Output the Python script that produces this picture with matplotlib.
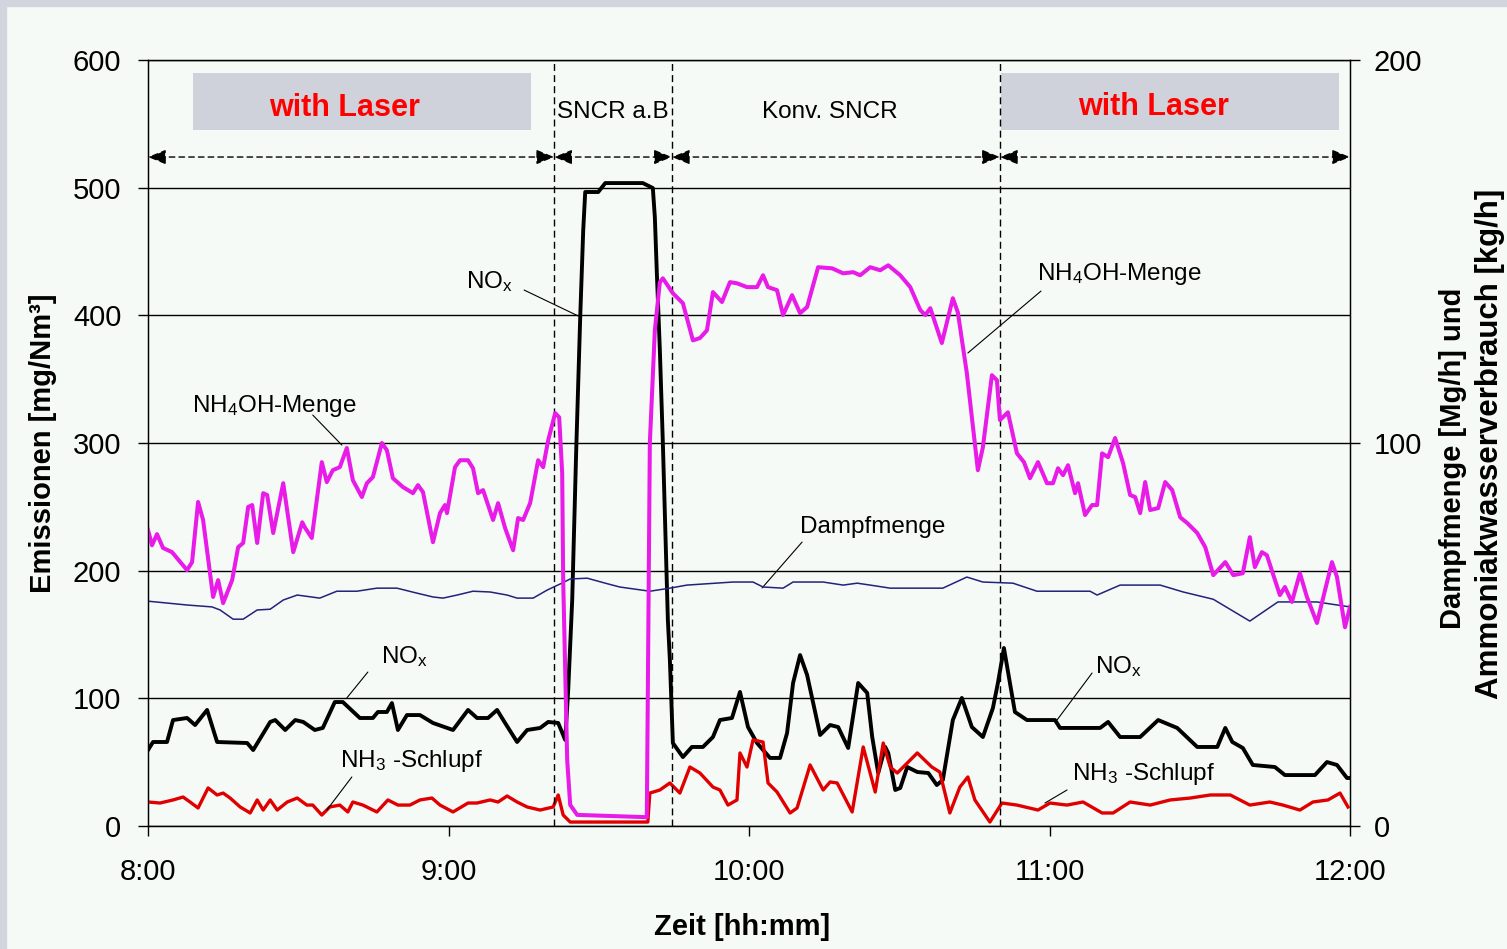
import matplotlib.pyplot as plt
from matplotlib.patches import Rectangle

plt.rcParams['font.family'] = ['Liberation Sans', 'DejaVu Sans']
plt.rcParams['mathtext.fontset'] = 'custom'
plt.rcParams['mathtext.rm'] = 'Liberation Sans'
plt.rcParams['mathtext.it'] = 'Liberation Sans:italic'
plt.rcParams['mathtext.bf'] = 'Liberation Sans:bold'

# time in minutes after 8:00
# NOx [mg/Nm3], left axis
nox_t = [0, 1.0, 3.8, 5.0, 7.8, 9.4, 11.8, 13.8, 19.8, 21.0, 24.4, 25.4, 27.4, 29.4, 31.0,
         33.3, 34.9, 37.3, 38.9, 42.3, 44.9, 45.9, 47.7, 48.7, 49.9, 51.7, 54.3, 56.9, 60.9,
         63.9, 65.7, 67.9, 69.7, 71.3, 73.7, 75.7, 78.3, 79.9, 81.9, 83.3, 83.9, 84.7, 85.5,
         86.3, 86.9, 87.3, 89.9, 91.3, 98.8, 100.8, 101.2, 101.6, 102.2, 102.8, 103.8, 104.2,
         104.8, 106.8, 108.6, 110.8, 112.8, 114.2, 116.6, 118.2, 119.8, 121.6, 124.2, 126.2,
         127.6, 128.8, 130.2, 131.6, 134.2, 136.2, 137.8, 139.8, 141.8, 143.6, 144.6, 145.8,
         147.2, 147.8, 149.2, 150.2, 151.6, 153.6, 155.8, 157.5, 158.7, 160.7, 162.5, 164.5,
         166.7, 168.7, 169.7, 170.9, 172.1, 173.1, 175.5, 181.1, 182.1, 190.1, 191.7, 194.1,
         198.1, 201.7, 205.5, 209.5, 213.5, 215.1, 216.5, 218.6, 220.6, 225.0, 227.0, 233.0,
         235.4, 237.4, 239.4, 240.0]
nox_v = [59.5, 65.8, 65.8, 83.0, 84.6, 79.1, 90.9, 65.8, 65.0, 59.5, 81.5, 83.0, 75.2, 83.0, 81.5,
         75.2, 76.8, 97.1, 97.1, 84.6, 84.6, 89.3, 89.3, 96.3, 75.2, 86.9, 86.9, 80.7, 75.2,
         90.9, 84.6, 84.6, 90.9, 80.7, 65.8, 75.2, 76.8, 81.5, 80.7, 67.4, 106.5, 177.0, 294.5,
         398.7, 466.8, 496.6, 496.6, 503.6, 503.6, 499.7, 476.9, 433.1, 372.8, 300.0, 161.4, 130.1,
         65.0, 54.0, 61.9, 61.9, 69.7, 83.0, 84.6, 105.0, 77.5, 65.0, 53.3, 53.3,
         72.8, 112.0, 133.9, 118.3, 71.3, 79.1, 77.5, 61.1, 112.0, 104.2, 69.7, 41.5,
         61.9, 57.2, 28.2, 29.8, 46.2, 42.3, 41.5, 32.1, 36.0, 83.0, 100.3, 77.5,
         69.7, 92.4, 112.0, 139.4, 112.0, 89.3, 83.0, 83.0, 76.8, 76.8, 81.5, 69.7,
         69.7, 83.0, 76.8, 61.9, 61.9, 76.8, 65.8, 61.1, 47.8, 46.2, 39.9, 39.9,
         50.1, 47.8, 37.6, 37.6]

# NH3-Schlupf [mg/Nm3], left axis
nh3_t = [0, 2.4, 5.0, 7.0, 8.4, 10.0, 12.0, 13.8, 15.0, 16.4, 18.4, 20.4, 21.8, 23.0, 24.4,
         25.8, 27.8, 29.8, 31.7, 32.9, 34.7, 36.3, 38.3, 39.9, 40.9, 42.9, 45.7, 47.9, 49.9,
         52.3, 54.3, 56.7, 58.3, 60.9, 63.9, 65.7, 68.3, 69.9, 71.7, 73.7, 75.7, 78.3, 80.9,
         81.9, 82.9, 84.3, 99.8, 100.2, 102.2, 104.2, 106.2, 108.2, 110.2, 112.8, 114.2, 115.8,
         117.6, 118.2, 119.6, 120.8, 122.8, 123.8, 125.6, 128.2, 129.6, 132.2, 134.8, 136.2,
         137.6, 140.6, 142.8, 145.2, 146.8, 148.2, 149.6, 150.8, 153.6, 156.5, 158.1, 160.1,
         162.1, 163.7, 165.1, 168.1, 170.5, 173.5, 177.7, 180.1, 183.5, 186.7, 190.5, 192.7,
         196.1, 200.1, 204.1, 208.1, 212.1, 216.1, 220.0, 224.0, 226.6, 230.0, 232.6, 235.6,
         238.0, 239.6]
nh3_v = [18.8, 18.0, 20.4, 22.7, 18.8, 14.1, 29.8, 24.3, 25.8, 21.9, 14.9, 10.2, 20.4, 12.5, 20.4,
         12.5, 18.8, 21.9, 16.4, 16.4, 8.6, 14.9, 16.4, 11.0, 18.8, 16.4, 11.0, 20.4, 16.4,
         16.4, 20.4, 21.9, 16.4, 11.0, 18.0, 18.0, 20.4, 18.8, 23.5, 18.8, 14.9, 12.5, 14.9,
         24.3, 8.6, 3.1, 3.1, 25.8, 28.2, 33.7, 25.8, 46.2, 41.5, 30.5, 28.2, 16.4,
         20.4, 57.2, 46.2, 67.4, 65.8, 33.7, 26.6, 10.2, 14.1, 47.8, 28.2, 34.5,
         33.7, 11.0, 61.9, 26.6, 65.0, 46.2, 41.5, 46.2, 57.2, 46.2, 42.3, 10.2,
         30.5, 38.4, 20.4, 3.1, 18.0, 16.4, 12.5, 18.0, 16.4, 18.8, 10.2, 10.2,
         18.8, 16.4, 20.4, 21.9, 24.3, 24.3, 16.4, 18.8, 16.4, 12.5, 18.8, 20.4,
         25.8, 14.9]

# NH4OH-Menge [kg/h], right axis
nh4_t = [0, 0.8, 1.8, 3.0, 4.8, 7.8, 8.8, 10.0, 11.0, 13.0, 14.0, 15.0, 16.8, 18.0, 19.0,
         20.0, 20.8, 21.8, 23.0, 23.8, 25.0, 27.0, 29.0, 30.8, 31.3, 32.7, 34.7, 35.7, 36.9,
         38.3, 39.7, 40.9, 42.7, 43.7, 44.9, 46.7, 47.7, 48.9, 50.9, 52.9, 53.9, 54.9, 56.9,
         58.3, 59.3, 59.7, 61.3, 62.3, 63.9, 64.9, 65.9, 66.9, 68.9, 69.9, 71.3, 72.9, 73.9,
         74.9, 76.3, 77.9, 78.9, 79.9, 81.3, 82.1, 82.7, 82.9, 83.7, 84.3, 85.7, 99.2, 99.6,
         100.2, 101.2, 102.2, 102.8, 104.8, 106.8, 108.8, 110.2, 111.6, 112.8, 114.6, 116.2,
         117.6, 119.6, 121.6, 122.8, 123.8, 125.6, 126.8, 128.6, 130.2, 131.6, 133.8, 136.6,
         138.8, 140.8, 142.2, 144.2, 146.2, 147.8, 150.2, 152.2, 154.2, 155.2, 156.2, 158.5,
         160.7, 161.7, 163.5, 165.7, 166.7, 168.5, 169.5, 170.1, 171.7, 173.5, 174.9, 176.1,
         177.7, 179.5, 180.7, 181.7, 182.7, 183.7, 185.1, 185.7, 187.1, 188.5, 189.5, 190.5,
         191.7, 193.1, 194.7, 196.1, 197.1, 198.1, 199.1, 200.1, 201.7, 203.1, 204.5, 206.1,
         207.5, 209.5, 211.1, 212.7, 215.1, 216.7, 218.6, 220.0, 221.0, 222.4, 223.4, 226.0,
         227.0, 228.4, 230.0, 231.4, 233.4, 236.4, 237.4, 239.0, 240.0]
nh4_v = [77.3, 73.3, 76.2, 72.6, 71.5, 66.8, 68.9, 84.6, 79.9, 59.8, 64.2, 58.2, 64.2, 72.8, 73.9,
         83.3, 83.8, 73.9, 86.9, 86.4, 76.5, 89.5, 71.5, 79.3, 78.0, 75.2, 95.0, 89.8, 92.9,
         93.7, 98.7, 90.3, 85.9, 89.5, 91.1, 100.0, 98.1, 90.8, 88.5, 86.9, 89.0, 87.2, 74.1,
         81.7, 83.8, 81.7, 93.7, 95.5, 95.5, 93.4, 86.9, 87.7, 79.9, 84.3, 77.8, 72.0, 80.4,
         79.9, 84.3, 95.5, 93.7, 100.7, 107.8, 106.7, 92.1, 64.2, 17.2, 5.5, 2.9, 2.3, 2.3,
         100.0, 129.4, 142.0, 143.0, 139.1, 136.5, 126.8, 127.4, 129.4, 139.4, 136.8, 142.0,
         141.7, 140.7, 140.7, 143.8, 140.7, 139.9, 133.4, 138.6, 133.9, 135.5, 145.9, 145.6,
         144.3, 144.6, 143.8, 145.9, 145.1, 146.4, 143.8, 140.7, 134.7, 133.4, 135.2, 126.1,
         137.8, 134.1, 118.2, 92.9, 98.9, 117.7, 116.4, 106.0, 108.0, 97.3, 95.0, 90.8,
         95.0, 89.5, 89.5, 93.4, 91.6, 94.2, 86.9, 89.5, 81.2, 83.8, 83.8, 97.3,
         96.3, 101.3, 94.7, 86.4, 85.9, 81.7, 89.8, 82.5, 83.0, 89.8, 87.7, 80.6,
         79.1, 76.5, 72.8, 65.5, 68.9, 65.5, 66.0, 75.4, 67.6, 71.5, 70.7, 60.3,
         62.4, 58.5, 66.0, 59.8, 53.0, 68.9, 65.0, 51.9, 57.2]

# Dampfmenge [Mg/h], right axis
dampf_t = [0, 7.8, 12.8, 14.4, 17.0, 19.0, 21.8, 24.4, 27.0, 29.8, 34.3, 37.7, 41.7, 45.7, 49.7,
           53.7, 56.9, 58.9, 61.7, 64.9, 68.3, 71.7, 73.7, 76.9, 79.7, 82.3, 84.3, 87.7, 91.3,
           94.2, 100.2, 104.2, 107.6, 116.8, 120.8, 122.8, 126.8, 128.8, 134.8, 138.8, 141.6,
           144.2, 148.2, 158.7, 163.5, 166.7, 172.7, 177.5, 188.1, 189.5, 194.1, 202.1, 206.7,
           212.7, 220.0, 225.6, 233.4, 240.0]
dampf_v = [58.7, 57.7, 57.2, 56.4, 54.0, 54.0, 56.4, 56.6, 59.0, 60.3, 59.5, 61.3, 61.3, 62.1, 62.1,
           60.8, 59.8, 59.5, 60.3, 61.3, 61.1, 60.3, 59.5, 59.5, 61.6, 63.2, 64.5, 64.7, 63.4,
           62.4, 61.3, 62.1, 62.9, 63.7, 63.7, 62.4, 62.1, 63.7, 63.7, 62.9, 63.4,
           62.9, 62.1, 62.1, 65.0, 63.7, 63.4, 61.3, 61.3, 60.3, 62.9, 62.9, 61.1,
           59.2, 53.5, 58.5, 58.5, 57.2]

phase_bounds = [0, 81.1, 104.6, 170.1, 240]
x_ticks = [0, 60, 120, 180, 240]
x_labels = ['8:00', '9:00', '10:00', '11:00', '12:00']

fig = plt.figure(figsize=(15.07, 9.49), dpi=100)
fig.patch.set_facecolor('#f5faf7')
fig.add_artist(Rectangle((0, 0), 6 / 1507, 1, transform=fig.transFigure,
                         color='#d2d5de', zorder=0))
fig.add_artist(Rectangle((0, 1 - 6 / 949), 1, 6 / 949, transform=fig.transFigure,
                         color='#d2d5de', zorder=0))

ax = fig.add_axes([148 / 1507, 1 - 826 / 949, 1202 / 1507, 766 / 949])
ax.set_facecolor('none')
ax.set_xlim(0, 240)
ax.set_ylim(0, 600)
ax.set_yticks(range(0, 601, 100))
ax.set_xticks(x_ticks)
ax.set_xticklabels(x_labels)
ax.grid(axis='y', color='black', lw=1.0)
ax.set_axisbelow(True)
for s in ax.spines.values():
    s.set_linewidth(1.0)
ax.tick_params(axis='y', direction='out', length=7.2, width=1.0, labelsize=21, pad=12)
ax.tick_params(axis='x', direction='out', length=7.2, width=1.0, labelsize=21, pad=16)

ax.plot(nox_t, nox_v, color='black', lw=2.8, zorder=3)
ax.plot(nh3_t, nh3_v, color='#e00000', lw=2.4, zorder=3)

ax2 = ax.twinx()
ax2.set_ylim(0, 200)
ax2.set_yticks([0, 100, 200])
ax2.tick_params(axis='y', direction='out', length=7.2, width=1.0, labelsize=21, pad=10)
ax2.plot(dampf_t, dampf_v, color='#22227a', lw=1.1)
ax2.plot(nh4_t, nh4_v, color='#e81be8', lw=2.9)

# phase separators and arrows
for b in phase_bounds[1:-1]:
    ax.axvline(b, color='black', lw=1.0, ls=(0, (5, 3)), zorder=4)
for a, b in zip(phase_bounds[:-1], phase_bounds[1:]):
    ax.annotate('', xy=(b, 524), xytext=(a, 524),
                arrowprops=dict(arrowstyle='<|-|>,head_length=1.1,head_width=0.45',
                                lw=1.0, ls=(0, (4, 3)), color='black', fc='black',
                                shrinkA=0, shrinkB=0, mutation_scale=10))

# "with Laser" boxes
for x0, x1 in [(9.0, 76.5), (170.3, 237.8)]:
    ax.add_patch(Rectangle((x0, 545.2), x1 - x0, 45.0, facecolor='#cfd2da',
                           edgecolor='none', zorder=2))
ax.text(39.3, 556.1, 'with Laser', color='#ff0000', fontsize=22, fontweight='bold',
        ha='center', va='baseline', zorder=5)
ax.text(200.7, 556.9, 'with Laser', color='#ff0000', fontsize=22, fontweight='bold',
        ha='center', va='baseline', zorder=5)
ax.text(81.7, 554.6, 'SNCR a.B', fontsize=17.5, ha='left', va='baseline')
ax.text(122.6, 554.6, 'Konv. SNCR', fontsize=17.5, ha='left', va='baseline')

# curve labels with leader lines
labels = [
    ('NH$_\\mathregular{4}$OH-Menge', 8.8, 324.3, (32.9, 321.9), (38.7, 298.4)),
    ('NO$_\\mathregular{x}$', 63.5, 421.4, (75.1, 419.8), (85.9, 399.5)),
    ('NH$_\\mathregular{4}$OH-Menge', 177.5, 427.7, (178.3, 419.0), (163.7, 370.5)),
    ('Dampfmenge', 130.2, 229.5, (130.6, 222.4), (122.6, 186.4)),
    ('NO$_\\mathregular{x}$', 46.5, 127.7, (43.9, 120.6), (39.7, 100.3)),
    ('NH$_\\mathregular{3}$ -Schlupf', 38.3, 46.2, (40.7, 38.4), (35.7, 12.5)),
    ('NO$_\\mathregular{x}$', 189.1, 119.8, (188.5, 119.8), (181.5, 83.0)),
    ('NH$_\\mathregular{3}$ -Schlupf', 184.5, 36.0, (183.5, 28.2), (179.1, 18.0)),
]
for txt, tx, ty, p0, p1 in labels:
    ax.text(tx, ty, txt, fontsize=17.5, ha='left', va='baseline', zorder=5)
    ax.annotate('', xy=p1, xytext=p0,
                arrowprops=dict(arrowstyle='-', lw=0.8, color='black',
                                shrinkA=0, shrinkB=0))

# axis titles
fig.text(43 / 1507, 1 - 443 / 949, 'Emissionen [mg/Nm³]', rotation=90, ha='center',
         va='center', fontsize=21, fontweight='bold')
fig.text(742 / 1507, 1 - 927 / 949, 'Zeit [hh:mm]', ha='center', va='center',
         fontsize=21, fontweight='bold')
fig.text(1453 / 1507, 1 - 458 / 949, 'Dampfmenge [Mg/h] und', rotation=90, ha='center',
         va='center', fontsize=21, fontweight='bold')
fig.text(1490 / 1507, 1 - 444 / 949, 'Ammoniakwasserverbrauch [kg/h]', rotation=90,
         ha='center', va='center', fontsize=22.5, fontweight='bold')

fig.savefig('out.png', dpi=100, facecolor=fig.get_facecolor())
